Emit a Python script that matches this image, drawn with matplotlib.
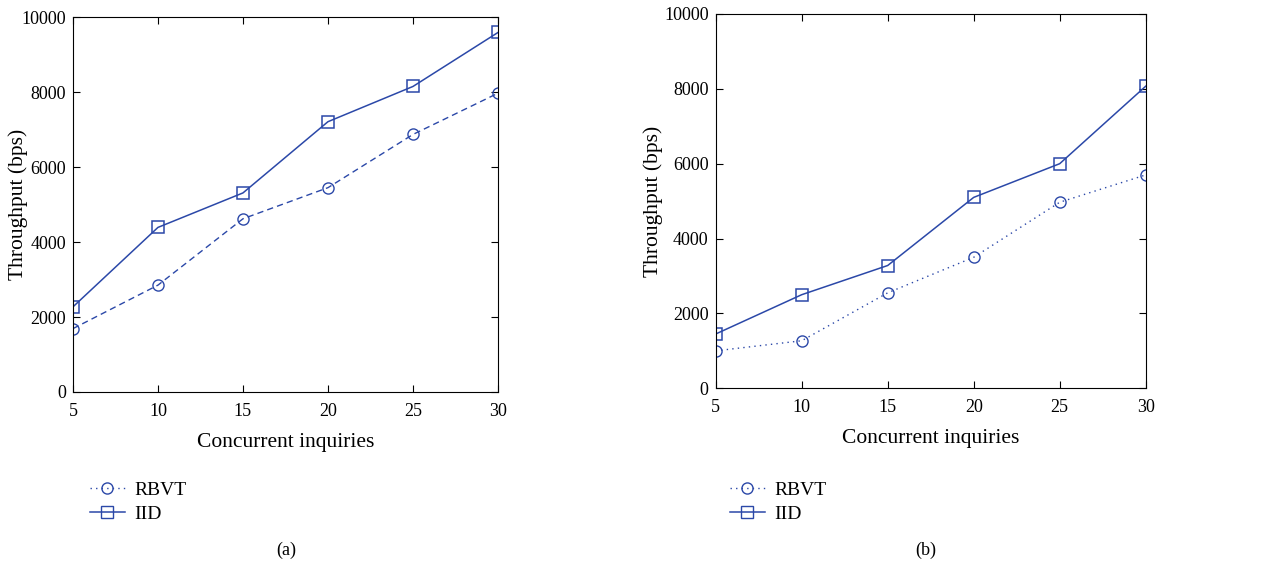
import matplotlib.pyplot as plt
import numpy as np
from matplotlib.lines import Line2D

plt.rcParams['font.family'] = ['Liberation Serif', 'DejaVu Serif']

x = [5, 10, 15, 20, 25, 30]

# panel (a)
rbvt_a = [1690, 2850, 4620, 5450, 6870, 7970]
iid_a = [2270, 4390, 5310, 7210, 8150, 9590]
# panel (b)
rbvt_b = [1000, 1270, 2550, 3500, 4970, 5700]
iid_b = [1450, 2500, 3280, 5100, 6000, 8070]

blue = '#2b48a8'

fig = plt.figure(figsize=(12.73, 5.68), dpi=100)
axA = fig.add_axes([0.0573, 0.3099, 0.3339, 0.660])
axB = fig.add_axes([0.5622, 0.3164, 0.3378, 0.659])

panels = [(axA, rbvt_a, iid_a, (0, (4.5, 3)), -0.106),
          (axB, rbvt_b, iid_b, (0, (1, 3)), -0.123)]

for ax, rbvt, iid, ls, lx in panels:
    ax.plot(x, rbvt, color=blue, linestyle=ls, linewidth=1.0, marker='o',
            markersize=8, markerfacecolor='none', markeredgewidth=1.0)
    ax.plot(x, iid, color=blue, linestyle='-', linewidth=1.1, marker='s',
            markersize=9, markerfacecolor='none', markeredgewidth=1.1)
    ax.set_xlim(5, 30)
    ax.set_ylim(0, 10000)
    ax.set_xticks(x)
    ax.set_yticks(np.arange(0, 10001, 2000))
    ax.tick_params(direction='in', top=True, right=True, labelsize=13, length=5)
    ax.tick_params(axis='x', pad=8)
    ax.tick_params(axis='y', pad=5)
    ax.set_xlabel('Concurrent inquiries', fontsize=15.5, labelpad=9)
    ax.set_ylabel('Throughput (bps)', fontsize=15.5)
    ax.yaxis.set_label_coords(lx, 0.5)

handles = [
    Line2D([], [], color=blue, linestyle=(0, (1, 3)), linewidth=1.0, marker='o',
           markersize=8, markerfacecolor='none'),
    Line2D([], [], color=blue, linestyle='-', linewidth=1.1, marker='s',
           markersize=9, markerfacecolor='none'),
]
labels = ['RBVT', 'IID']

for ax, x0 in [(axA, 72), (axB, 712)]:
    ax.legend(handles, labels, loc='upper left', bbox_to_anchor=(x0 / 1273, 1 - 464 / 568),
              bbox_transform=fig.transFigure, frameon=False, fontsize=14,
              handlelength=1.8, labelspacing=0.3, handletextpad=0.5)

fig.text(286 / 1273, 1 - 550 / 568, '(a)', ha='center', va='center', fontsize=13)
fig.text(926 / 1273, 1 - 550 / 568, '(b)', ha='center', va='center', fontsize=13)

fig.savefig('out.png', dpi=100)
